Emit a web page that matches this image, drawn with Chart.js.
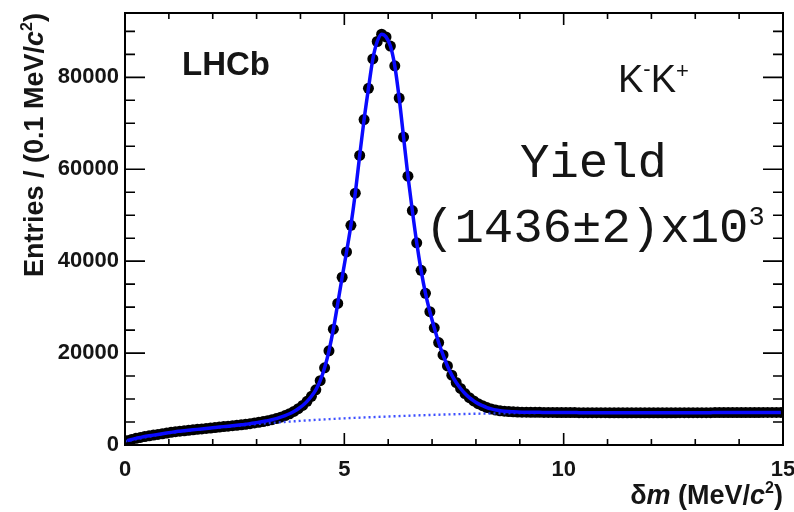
<!DOCTYPE html>
<html>
<head>
<meta charset="utf-8">
<script src="https://cdn.jsdelivr.net/npm/chart.js@4.4.1/dist/chart.umd.min.js"></script>
<style>
  html, body { margin: 0; padding: 0; background: #fff; }
  canvas { display: block; }
</style>
</head>
<body>
<canvas id="dmChart" width="794" height="512"></canvas>
<script>
// delta-m spectrum, bins of 0.1 MeV/c^2 from 0 to 15
const binWidth = 0.1;
const entries = [
  950, 1200, 1450, 1650, 1850, 2000, 2150, 2300, 2450, 2600,
  2750, 2900, 3000, 3100, 3200, 3300, 3400, 3500, 3600, 3700,
  3800, 3900, 4000, 4100, 4200, 4300, 4400, 4500, 4650, 4800,
  4950, 5100, 5300, 5500, 5750, 6050, 6400, 6800, 7300, 7900,
  8600, 9500, 10600, 12000, 14000, 16800, 20500, 25200, 30800, 36500,
  42000, 47800, 54800, 63000, 70800, 77600, 84000, 87800, 89400, 88800,
  86800, 82500, 75500, 67000, 58500, 51000, 44000, 38000, 33000, 29000,
  25500, 22300, 19600, 17200, 15200, 13600, 12300, 11200, 10300, 9600,
  9000, 8550, 8150, 7850, 7600, 7450, 7350, 7280, 7220, 7180,
  7150, 7130, 7120, 7100, 7100, 7090, 7080, 7080, 7070, 7060,
  7060, 7050, 7050, 7040, 7040, 7040, 7030, 7030, 7030, 7030,
  7020, 7020, 7020, 7020, 7020, 7010, 7010, 7010, 7010, 7010,
  7010, 7010, 7020, 7020, 7020, 7020, 7030, 7030, 7030, 7030,
  7040, 7040, 7040, 7040, 7050, 7050, 7050, 7050, 7060, 7060,
  7060, 7060, 7070, 7070, 7070, 7080, 7080, 7080, 7090, 7090
];

// combinatorial background component of the fit
const bkgX = [0, 1, 2, 3, 4, 5, 6, 7, 8, 9, 10, 11, 12, 13, 14, 15];
const bkgY = [800, 2600, 3700, 4550, 5250, 5800, 6200, 6550, 6800, 6950, 7000, 7020, 7030, 7040, 7060, 7080];

const xTicks = [0, 5, 10, 15];
const yTicks = [0, 20000, 40000, 60000, 80000];
const xMin = 0, xMax = 15, yMin = 0, yMax = 94000;
const xMinorStep = 1, yMinorStep = 5000;

const points = entries.map((v, i) => ({ x: +(binWidth * i + binWidth / 2).toFixed(2), y: v }));
const bkg = bkgX.map((x, i) => ({ x: x, y: bkgY[i] }));

const sans = '"Liberation Sans", Arial, Helvetica, sans-serif';
const mono = '"Liberation Mono", "Courier New", monospace';

function drawRuns(ctx, runs, x, y, align) {
    let w = 0;
    runs.forEach(r => { ctx.font = r.font; w += ctx.measureText(r.t).width; });
    let cx = align === "right" ? x - w : align === "center" ? x - w / 2 : x;
    runs.forEach(r => {
        ctx.font = r.font;
        ctx.fillText(r.t, cx, y + (r.dy || 0));
        cx += ctx.measureText(r.t).width;
    });
}

const framePlugin = {
    id: "frame",
    afterDatasetsDraw(chart) {
        const { ctx, chartArea: a, scales: { x, y } } = chart;
        ctx.save();
        ctx.strokeStyle = "#000";
        ctx.lineWidth = 2;
        ctx.strokeRect(a.left, a.top, a.right - a.left, a.bottom - a.top);

        ctx.lineWidth = 1.6;
        ctx.beginPath();
        for (let v = xMin; v <= xMax; v += xMinorStep) {
            const px = x.getPixelForValue(v);
            const len = xTicks.includes(v) ? 12 : 6;
            ctx.moveTo(px, a.bottom); ctx.lineTo(px, a.bottom - len);
            ctx.moveTo(px, a.top); ctx.lineTo(px, a.top + len);
        }
        for (let v = yMin; v <= yMax; v += yMinorStep) {
            const py = y.getPixelForValue(v);
            const len = yTicks.includes(v) ? 20 : 10;
            ctx.moveTo(a.left, py); ctx.lineTo(a.left + len, py);
            ctx.moveTo(a.right, py); ctx.lineTo(a.right - len, py);
        }
        ctx.stroke();
        ctx.restore();
    },
    afterDraw(chart) {
        const { ctx, chartArea: a } = chart;
        ctx.save();
        ctx.fillStyle = "#151515";
        ctx.textAlign = "left";
        ctx.textBaseline = "alphabetic";

        // axis titles
        drawRuns(ctx, [
            { t: "\u03b4", font: "bold 27px " + sans },
            { t: "m", font: "italic bold 27px " + sans },
            { t: " (MeV/", font: "bold 27px " + sans },
            { t: "c", font: "italic bold 27px " + sans },
            { t: "2", font: "bold 16px " + sans, dy: -11 },
            { t: ")", font: "bold 27px " + sans }
        ], a.right, 504, "right");

        ctx.save();
        ctx.translate(43, a.top);
        ctx.rotate(-Math.PI / 2);
        drawRuns(ctx, [
            { t: "Entries / (0.1 MeV/", font: "bold 27px " + sans },
            { t: "c", font: "italic bold 27px " + sans },
            { t: "2", font: "bold 16px " + sans, dy: -11 },
            { t: ")", font: "bold 27px " + sans }
        ], 0, 0, "right");
        ctx.restore();

        // labels inside the frame
        drawRuns(ctx, [{ t: "LHCb", font: "bold 33px " + sans }], 182, 75, "left");
        drawRuns(ctx, [
            { t: "K", font: "38px " + sans },
            { t: "-", font: "22px " + sans, dy: -16 },
            { t: "K", font: "38px " + sans },
            { t: "+", font: "22px " + sans, dy: -14 }
        ], 618, 92, "left");
        drawRuns(ctx, [{ t: "Yield", font: "49px " + mono }], 520, 177, "left");
        drawRuns(ctx, [
            { t: "(1436\u00b12)x10", font: "49px " + mono },
            { t: "3", font: "27px " + mono, dy: -17 }
        ], 425, 242, "left");
        ctx.restore();
    }
};

const ctx = document.getElementById("dmChart").getContext("2d");

new Chart(ctx, {
    type: "scatter",
    data: {
        datasets: [
            {
                label: "Fit",
                data: points,
                showLine: true,
                borderColor: "#0a0aff",
                borderWidth: 3.5,
                pointRadius: 0,
                cubicInterpolationMode: "monotone"
            },
            {
                label: "Background",
                data: bkg,
                showLine: true,
                borderColor: "rgba(40, 60, 255, 0.9)",
                borderWidth: 2.4,
                borderDash: [2, 3],
                pointRadius: 0,
                cubicInterpolationMode: "monotone"
            },
            {
                label: "Data",
                data: points,
                showLine: false,
                pointRadius: 5.5,
                pointBackgroundColor: "#000",
                pointBorderWidth: 0
            }
        ]
    },
    options: {
        responsive: false,
        animation: false,
        events: [],
        layout: { padding: { left: 0, right: 11, top: 13, bottom: 0 } },
        plugins: {
            legend: { display: false },
            tooltip: { enabled: false }
        },
        scales: {
            x: {
                type: "linear",
                min: xMin,
                max: xMax,
                grid: { display: false, drawTicks: false },
                border: { display: false },
                afterBuildTicks: s => { s.ticks = xTicks.map(v => ({ value: v })); },
                afterFit: s => { s.height = 67; s.paddingLeft = 0; s.paddingRight = 0; },
                ticks: {
                    padding: 12,
                    maxRotation: 0,
                    color: "#151515",
                    font: { family: sans, size: 22, weight: "bold" }
                }
            },
            y: {
                type: "linear",
                min: yMin,
                max: yMax,
                grid: { display: false, drawTicks: false },
                border: { display: false },
                afterBuildTicks: s => { s.ticks = yTicks.map(v => ({ value: v })); },
                afterFit: s => { s.width = 125; s.paddingTop = 0; s.paddingBottom = 0; },
                ticks: {
                    padding: 6,
                    color: "#151515",
                    font: { family: sans, size: 22, weight: "bold" },
                    callback: v => String(v)
                }
            }
        }
    },
    plugins: [framePlugin]
});
</script>
</body>
</html>
